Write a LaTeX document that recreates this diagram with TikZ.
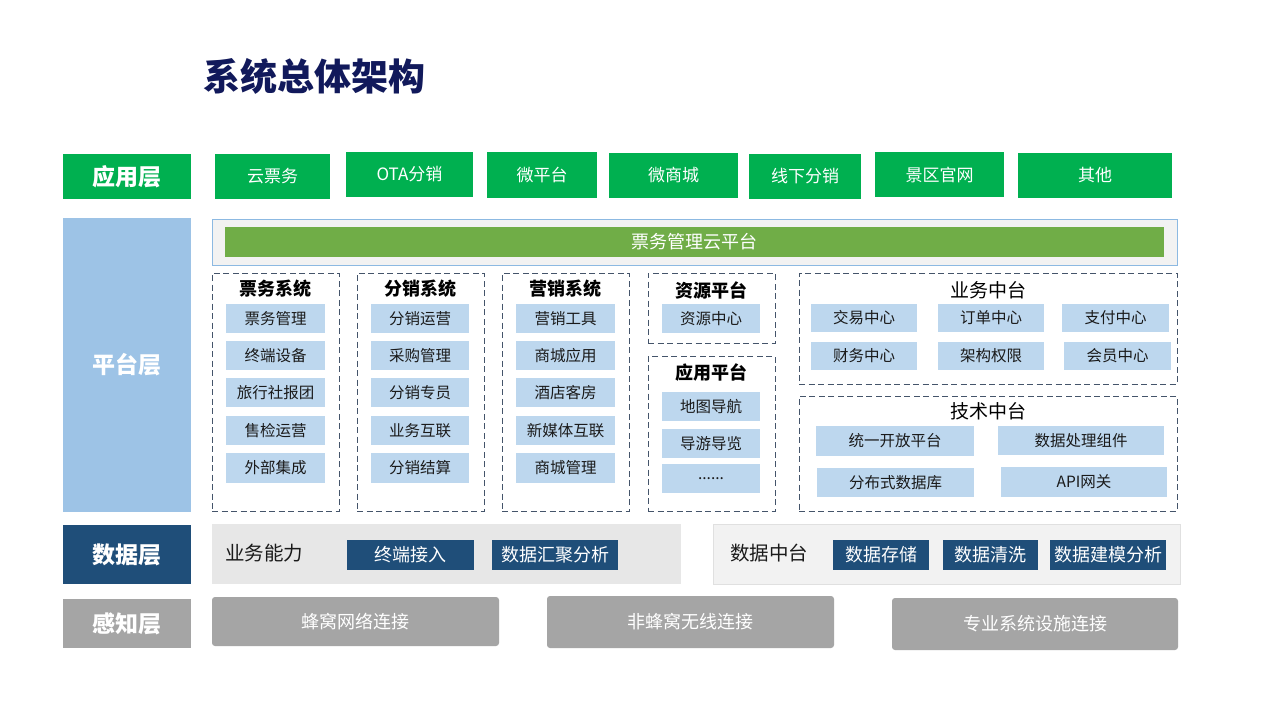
\documentclass[tikz,border=0pt]{standalone}
\usepackage{fontspec}
\setmainfont{Noto Sans CJK SC}
\definecolor{appgreen}{HTML}{00B050}
\definecolor{titlenavy}{HTML}{11195B}
\definecolor{platblue}{HTML}{9DC3E6}
\definecolor{itemblue}{HTML}{BDD7EE}
\definecolor{darkblue}{HTML}{1F4E79}
\definecolor{layergray}{HTML}{A5A5A5}
\definecolor{barggreen}{HTML}{70AD47}
\definecolor{dashcol}{HTML}{44546A}
\definecolor{bgA}{HTML}{E7E7E7}
\definecolor{bgB}{HTML}{F2F2F2}
\definecolor{frameblue}{HTML}{5B9BD5}
\definecolor{txt}{HTML}{1A1A1A}
\tikzset{
  base/.style={rectangle, inner sep=0pt, outer sep=0pt, align=center},
  layer/.style={base, text=white, font=\fontsize{23}{26}\selectfont\bfseries},
  appbox/.style={base, fill=appgreen, text=white, font=\fontsize{17}{20}\selectfont},
  item/.style={base, fill=itemblue, text=txt, font=\fontsize{15.5}{18}\selectfont},
  grp/.style={base, draw=dashcol, dash pattern=on 6pt off 3.5pt, line width=0.9pt},
  grptitle/.style={inner sep=0pt, text=black, font=\fontsize{18}{20}\selectfont\bfseries},
  midtitle/.style={inner sep=0pt, text=black, font=\fontsize{19}{21}\selectfont},
  dbox/.style={base, fill=darkblue, text=white, font=\fontsize{18}{20}\selectfont},
  conn/.style={base, fill=layergray, text=white, rounded corners=3pt, font=\fontsize{18}{20}\selectfont},
}
% \mybox{style}{name}{x1}{y1}{x2}{y2}{text}
\newcommand\mybox[7]{%
  \node[#1, minimum width={(#5)-(#3)}, minimum height={(#6)-(#4)}]
    (#2) at ({((#3)+(#5))/2},{((#4)+(#6))/2}) {#7};}
\begin{document}
\begin{tikzpicture}[x=1pt,y=-1pt]
\useasboundingbox[fill=white] (0,0) rectangle (1280,720);
% title
\node[inner sep=0pt, anchor=west, text=titlenavy, font=\fontsize{37}{40}\selectfont\bfseries] (title) at (203,76) {系统总体架构};
% layer labels
\mybox{layer, fill=appgreen}{Lapp}{63}{154}{191}{199}{应用层}
\mybox{layer, fill=platblue}{Lplat}{63}{218}{191}{512}{平台层}
\mybox{layer, fill=darkblue}{Ldata}{63}{525}{191}{584}{数据层}
\mybox{layer, fill=layergray}{Lsense}{63}{599}{191}{648}{感知层}
% application layer
\mybox{appbox}{a1}{215}{154}{330}{199}{云票务}
\mybox{appbox}{a2}{346}{152}{473}{197}{OTA分销}
\mybox{appbox}{a3}{487}{152}{597}{198}{微平台}
\mybox{appbox}{a4}{609}{153}{738}{198}{微商城}
\mybox{appbox}{a5}{749}{154}{861}{199}{线下分销}
\mybox{appbox}{a6}{875}{152}{1004}{197}{景区官网}
\mybox{appbox}{a7}{1018}{153}{1172}{198}{其他}
% platform top bar
\mybox{base, fill=bgB, draw=frameblue!70, line width=0.8pt}{cloudframe}{212}{219}{1177}{265}{}
\mybox{base, fill=barggreen, text=white, font=\fontsize{18}{20}\selectfont}{cloud}{225}{227}{1164}{257}{票务管理云平台}
% groups
\mybox{grp}{g1}{212}{273}{339}{511}{}
\mybox{grp}{g2}{357}{273}{484}{511}{}
\mybox{grp}{g3}{502}{273}{629}{511}{}
\mybox{grp}{g4}{648}{273}{775}{343}{}
\mybox{grp}{g5}{648}{356}{775}{511}{}
\mybox{grp}{g6}{799}{273}{1177}{384}{}
\mybox{grp}{g7}{799}{396}{1177}{511}{}
\node[grptitle] (t1) at (275.5,289) {票务系统};
\node[grptitle] (t2) at (420.5,289) {分销系统};
\node[grptitle] (t3) at (565.5,289) {营销系统};
\node[grptitle] (t4) at (711.5,290) {资源平台};
\node[grptitle] (t5) at (711.5,373) {应用平台};
\node[midtitle] (t6) at (988,290) {业务中台};
\node[midtitle] (t7) at (988,411) {技术中台};
% 票务系统 items
\mybox{item}{p1}{226}{304}{325}{333}{票务管理}
\mybox{item}{p2}{226}{341}{325}{370}{终端设备}
\mybox{item}{p3}{226}{378}{325}{407}{旅行社报团}
\mybox{item}{p4}{226}{416}{325}{445}{售检运营}
\mybox{item}{p5}{226}{453}{325}{483}{外部集成}
% 分销系统 items
\mybox{item}{f1}{371}{304}{469}{333}{分销运营}
\mybox{item}{f2}{371}{341}{469}{370}{采购管理}
\mybox{item}{f3}{371}{378}{469}{407}{分销专员}
\mybox{item}{f4}{371}{416}{469}{445}{业务互联}
\mybox{item}{f5}{371}{453}{469}{483}{分销结算}
% 营销系统 items
\mybox{item}{y1}{516}{304}{615}{333}{营销工具}
\mybox{item}{y2}{516}{341}{615}{370}{商城应用}
\mybox{item}{y3}{516}{378}{615}{407}{酒店客房}
\mybox{item}{y4}{516}{416}{615}{445}{新媒体互联}
\mybox{item}{y5}{516}{453}{615}{483}{商城管理}
% 资源平台 / 应用平台
\mybox{item}{r1}{662}{304}{760}{333}{资源中心}
\mybox{item}{u1}{662}{392}{760}{421}{地图导航}
\mybox{item}{u2}{662}{429}{760}{458}{导游导览}
\mybox{item}{u3}{662}{464}{760}{493}{......}
% 业务中台
\mybox{item}{b1}{811}{304}{917}{332}{交易中心}
\mybox{item}{b2}{938}{304}{1044}{332}{订单中心}
\mybox{item}{b3}{1062}{304}{1169}{332}{支付中心}
\mybox{item}{b4}{811}{342}{917}{370}{财务中心}
\mybox{item}{b5}{938}{342}{1044}{370}{架构权限}
\mybox{item}{b6}{1064}{342}{1171}{370}{会员中心}
% 技术中台
\mybox{item}{j1}{816}{426}{974}{456}{统一开放平台}
\mybox{item}{j2}{998}{426}{1164}{455}{数据处理组件}
\mybox{item}{j3}{817}{468}{974}{497}{分布式数据库}
\mybox{item}{j4}{1001}{467}{1167}{497}{API网关}
% data layer
\mybox{base, fill=bgA}{dA}{212}{524}{681}{584}{}
\node[inner sep=0pt, anchor=west, text=txt, font=\fontsize{19.5}{22}\selectfont] (dAt) at (225,553) {业务能力};
\mybox{dbox}{d1}{347}{540}{474}{570}{终端接入}
\mybox{dbox}{d2}{492}{540}{618}{570}{数据汇聚分析}
\mybox{base, fill=bgB, draw=black!12, line width=0.8pt}{dB}{713}{524}{1180}{584}{}
\node[inner sep=0pt, anchor=west, text=txt, font=\fontsize{19.5}{22}\selectfont] (dBt) at (730,553) {数据中台};
\mybox{dbox}{d3}{833}{540}{929}{570}{数据存储}
\mybox{dbox}{d4}{943}{540}{1038}{570}{数据清洗}
\mybox{dbox}{d5}{1050}{540}{1166}{570}{数据建模分析}
% perception layer
\mybox{conn}{c1}{212}{597}{499}{646}{蜂窝网络连接}
\mybox{conn}{c2}{547}{596}{834}{648}{非蜂窝无线连接}
\mybox{conn}{c3}{892}{598}{1178}{650}{专业系统设施连接}
\end{tikzpicture}
\end{document}
